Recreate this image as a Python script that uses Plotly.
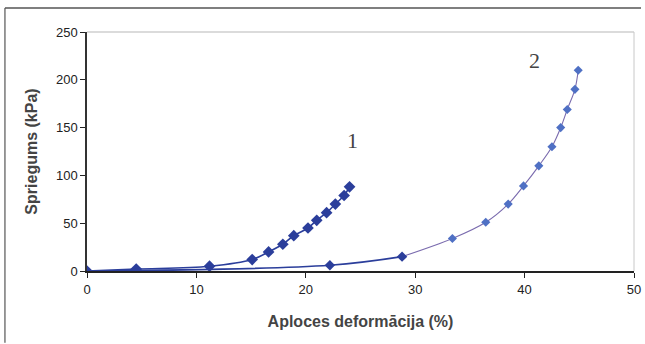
import plotly.graph_objects as go

# Series 1
x1 = [0, 4.5, 11.2, 15.1, 16.6, 17.9, 18.9, 20.2, 21.0, 21.9, 22.7, 23.5, 24.0]
y1 = [0, 2, 5, 12, 20, 28, 37, 45, 53, 61, 70, 79, 88]

# Series 2
x2 = [0, 22.2, 28.8, 33.4, 36.45, 38.5, 39.9, 41.3, 42.5, 43.3, 43.9, 44.6, 44.9]
y2 = [0, 6, 15, 34, 51, 70, 89, 110, 130, 150, 169, 190, 210]

x_ticks = [0, 10, 20, 30, 40, 50]
y_ticks = [0, 50, 100, 150, 200, 250]

dark = "#2B3E9B"
purple = "#7A6BAE"
light = "#4F70C4"

fig = go.Figure()
split = 3
fig.add_trace(go.Scatter(x=x2[:split], y=y2[:split], mode="lines",
                         line=dict(color=dark, width=1.6, shape="spline"),
                         showlegend=False, hoverinfo="skip"))
fig.add_trace(go.Scatter(x=x2[split - 1:], y=y2[split - 1:], mode="lines",
                         line=dict(color=purple, width=1.1, shape="spline"),
                         showlegend=False, hoverinfo="skip"))
fig.add_trace(go.Scatter(x=x2[1:split], y=y2[1:split], mode="markers",
                         marker=dict(symbol="diamond", size=8, color=dark),
                         showlegend=False))
fig.add_trace(go.Scatter(x=x2[split:], y=y2[split:], mode="markers",
                         marker=dict(symbol="diamond", size=7, color=light),
                         showlegend=False))
fig.add_trace(go.Scatter(x=x1, y=y1, mode="lines+markers",
                         line=dict(color=dark, width=1.6, shape="spline"),
                         marker=dict(symbol="diamond", size=9, color=dark),
                         showlegend=False))

fig.update_layout(
    width=645, height=344,
    margin=dict(l=87, r=11, t=32, b=73, autoexpand=False),
    paper_bgcolor="white", plot_bgcolor="white",
    font=dict(family="Liberation Sans, Arial, sans-serif", size=13, color="#333333"),
    xaxis=dict(range=[0, 50], tickvals=x_ticks, ticks="outside", ticklen=5,
               tickcolor="#222", showline=True, linecolor="#222", linewidth=2,
               showgrid=False, zeroline=False, mirror=False, automargin=False,
               title=dict(text="<b>Aploces deformācija (%)</b>",
                          font=dict(size=16, color="#444"), standoff=20),
               tickfont=dict(size=13, color="#222")),
    yaxis=dict(range=[0, 250], tickvals=y_ticks, ticks="outside", ticklen=5,
               tickcolor="#222", showline=True, linecolor="#333", linewidth=1.5,
               showgrid=False, zeroline=False, automargin=False,
               title=dict(text="<b>Spriegums (kPa)</b>",
                          font=dict(size=16, color="#444"), standoff=14),
               tickfont=dict(size=13, color="#222")),
    shapes=[
        dict(type="line", xref="paper", yref="paper", x0=0, x1=1, y0=1, y1=1,
             line=dict(color="#b8b8b8", width=1.2)),
        dict(type="line", xref="paper", yref="paper", x0=1, x1=1, y0=0, y1=1,
             line=dict(color="#c8c8c8", width=1)),
        dict(type="line", xref="paper", yref="paper", x0=-0.15, x1=1.0128, y0=1.10, y1=1.10,
             line=dict(color="#555", width=1.5)),
        dict(type="line", xref="paper", yref="paper", x0=-0.15, x1=-0.15, y0=-0.30, y1=1.10,
             line=dict(color="#555", width=1.2)),
    ],
    annotations=[
        dict(x=24.3, y=136, xref="x", yref="y", text="1", showarrow=False,
             font=dict(family="Liberation Serif, Times New Roman, serif", size=22, color="#444")),
        dict(x=40.9, y=220, xref="x", yref="y", text="2", showarrow=False,
             font=dict(family="Liberation Serif, Times New Roman, serif", size=22, color="#444")),
    ],
)

fig.write_html("out.html", config={"displayModeBar": False},
               post_script="document.body.style.margin='0';")
